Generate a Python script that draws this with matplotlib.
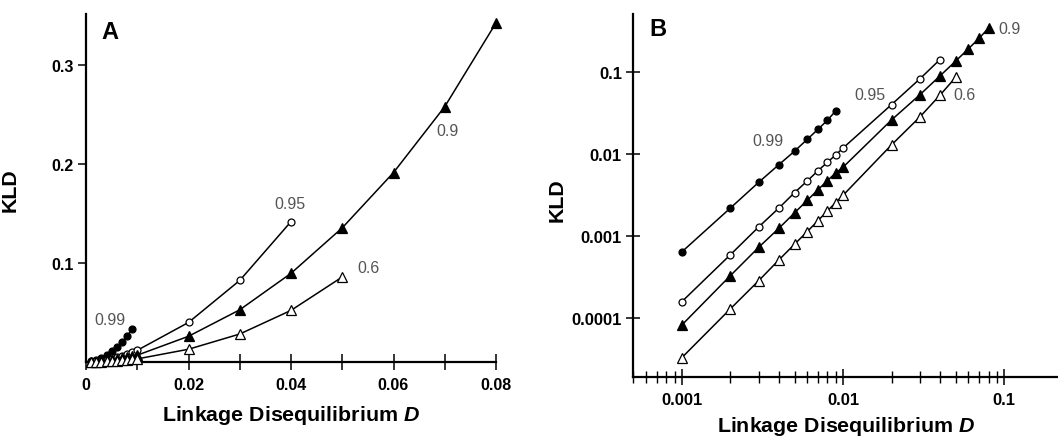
import matplotlib
matplotlib.use("Agg")
import matplotlib.pyplot as plt
from matplotlib.ticker import FixedLocator, NullFormatter, NullLocator

plt.rcParams["font.family"] = ["Liberation Sans", "DejaVu Sans"]
plt.rcParams["mathtext.fontset"] = "custom"
plt.rcParams["mathtext.it"] = "Liberation Sans:italic:bold"

# LD values D
d_small = [0.001, 0.002, 0.003, 0.004, 0.005, 0.006, 0.007, 0.008, 0.009]
d_095 = d_small + [0.01, 0.02, 0.03, 0.04]
d_09 = d_small + [0.01, 0.02, 0.03, 0.04, 0.05, 0.06, 0.07, 0.08]
d_06 = d_small + [0.01, 0.02, 0.03, 0.04, 0.05]

# KLD values per allele frequency
kld_099 = [6.4e-4, 0.00219, 0.00452, 0.00741, 0.0108, 0.0151, 0.0200, 0.0258, 0.0334]
kld_095 = [1.58e-4, 5.9e-4, 0.00129, 0.00219, 0.00337, 0.00469, 0.00625, 0.00792,
           0.00972, 0.0118, 0.0400, 0.0825, 0.142]
kld_09 = [8.2e-5, 3.28e-4, 7.28e-4, 0.00124, 0.00191, 0.00272, 0.00367, 0.00473,
          0.00586, 0.00689, 0.0260, 0.0528, 0.0897, 0.1357, 0.1916, 0.2583, 0.343]
kld_06 = [3.28e-5, 1.29e-4, 2.85e-4, 5.10e-4, 7.92e-4, 0.00113, 0.00154, 0.00202,
          0.00255, 0.00313, 0.0129, 0.0283, 0.0522, 0.0860]

series = [
    ("0.99", d_small, kld_099, "o", "black"),
    ("0.95", d_095, kld_095, "o", "white"),
    ("0.9", d_09, kld_09, "^", "black"),
    ("0.6", d_06, kld_06, "^", "white"),
]

fig = plt.figure(figsize=(10.58, 4.39), dpi=100)
ax_a = fig.add_axes([86 / 1058, 1 - 363 / 439, 410 / 1058, 348 / 439])
ax_b = fig.add_axes([633 / 1058, 1 - 378 / 439, 425 / 1058, 363 / 439])

lab_col = "#555555"
lab_font = dict(fontsize=11.5, color=lab_col, ha="center", va="center")
axis_font = dict(fontsize=15.4, fontweight="bold")

for ax in (ax_a, ax_b):
    for side in ("top", "right"):
        ax.spines[side].set_visible(False)
    for side in ("left", "bottom"):
        ax.spines[side].set_linewidth(1.6)

# panel A: linear scale, curves start at the origin
for name, d, k, mk, fc in series:
    ax_a.plot([0] + d, [0] + k, color="black", lw=1.1, marker=mk,
              ms=5 if mk == "o" else 6.5,
              mfc=fc, mec="black", mew=0.9, markevery=list(range(1, len(d) + 1)),
              clip_on=False, zorder=3)

ax_a.set_xlim(0, 0.08)
ax_a.set_ylim(0, 0.352)
ax_a.set_xticks([0, 0.02, 0.04, 0.06, 0.08])
ax_a.set_xticklabels(["0", "0.02", "0.04", "0.06", "0.08"], fontsize=11.5, fontweight="bold")
ax_a.xaxis.set_minor_locator(FixedLocator([0.01, 0.03, 0.05, 0.07]))
ax_a.set_yticks([0.1, 0.2, 0.3])
ax_a.set_yticklabels(["0.1", "0.2", "0.3"], fontsize=11.5, fontweight="bold")
ax_a.tick_params(axis="x", which="both", direction="inout", length=11, width=1.1, pad=5)
ax_a.tick_params(axis="y", which="both", direction="out", length=6, width=1.1, pad=3)
ax_a.set_xlabel("Linkage Disequilibrium $D$", labelpad=8, **axis_font)
ax_a.set_ylabel("KLD", **axis_font)
ax_a.yaxis.set_label_coords(-0.161, 0.497)
ax_a.text(0.0031, 0.334, "A", fontsize=17, fontweight="bold", va="center", ha="left")
ax_a.text(0.0047, 0.0434, "0.99", **lab_font)
ax_a.text(0.0398, 0.1606, "0.95", **lab_font)
ax_a.text(0.0706, 0.234, "0.9", **lab_font)
ax_a.text(0.0552, 0.096, "0.6", **lab_font)

# panel B: log-log
for name, d, k, mk, fc in series:
    ax_b.plot(d, k, color="black", lw=1.1, marker=mk,
              ms=5 if mk == "o" else 6.5,
              mfc=fc, mec="black", mew=0.9, clip_on=False, zorder=3)

ax_b.set_xscale("log")
ax_b.set_yscale("log")
ax_b.set_xlim(0.000497, 0.216)
ax_b.set_ylim(1.9e-5, 0.51)
ax_b.set_xticks([0.001, 0.01, 0.1])
ax_b.set_xticklabels(["0.001", "0.01", "0.1"], fontsize=12, fontweight="bold")
ax_b.xaxis.set_minor_locator(FixedLocator(
    [m * 10.0 ** e for e in (-4, -3, -2) for m in range(2, 10)]))
ax_b.xaxis.set_minor_formatter(NullFormatter())
ax_b.set_yticks([0.0001, 0.001, 0.01, 0.1])
ax_b.set_yticklabels(["0.0001", "0.001", "0.01", "0.1"], fontsize=12, fontweight="bold")
ax_b.yaxis.set_minor_locator(NullLocator())
ax_b.tick_params(axis="x", which="major", direction="inout", length=12, width=1.1, pad=5)
ax_b.tick_params(axis="x", which="minor", direction="inout", length=8, width=1.0)
ax_b.tick_params(axis="y", which="major", direction="inout", length=10, width=1.1, pad=3)
ax_b.set_xlabel("Linkage Disequilibrium $D$", labelpad=5, **axis_font)
ax_b.set_ylabel("KLD", **axis_font)
ax_b.yaxis.set_label_coords(-0.155, 0.49)
ax_b.text(0.00063, 0.344, "B", fontsize=17, fontweight="bold", va="center", ha="left")
ax_b.text(0.00342, 0.0148, "0.99", **lab_font)
ax_b.text(0.0147, 0.0528, "0.95", **lab_font)
ax_b.text(0.108, 0.344, "0.9", **lab_font)
ax_b.text(0.0566, 0.0528, "0.6", **lab_font)

fig.savefig("out.png", dpi=100)
